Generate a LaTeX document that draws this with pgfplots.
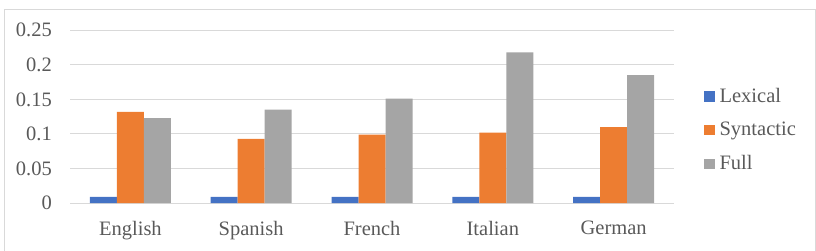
\documentclass[border=0pt]{standalone}
\usepackage{fontspec}
\setmainfont{Liberation Serif}
\usepackage{pgfplots}
\pgfplotsset{compat=1.18}
\definecolor{lexblue}{HTML}{4472C4}
\definecolor{synorange}{HTML}{ED7D31}
\definecolor{fullgray}{HTML}{A5A5A5}
\definecolor{gridc}{HTML}{D9D9D9}
\definecolor{txt}{HTML}{595959}
\begin{document}
\begin{tikzpicture}[x=1bp,y=1bp]
\fontsize{20bp}{24bp}\selectfont
\draw[gridc, line width=1bp] (4,-5) rectangle (815,240);
\begin{axis}[
  at={(70bp,47bp)}, anchor=south west,
  scale only axis, width=604bp, height=172.7bp,
  xmin=-0.5, xmax=4.5, ymin=0, ymax=0.25,
  ybar=0pt, bar width=27bp,
  axis line style={draw=none},
  major tick length=0pt,
  ymajorgrids, grid style={gridc, line width=1bp},
  ytick={0,0.05,0.1,0.15,0.2,0.25},
  yticklabels={0,0.05,0.1,0.15,0.2,0.25},
  xtick={0,1,2,3,4},
  xticklabels={English,Spanish,French,Italian,German},
  yticklabel style={anchor=east, inner sep=0pt, xshift=-18bp, text=txt, font=\fontsize{20.5bp}{24bp}\selectfont},
  xticklabel style={anchor=north, inner sep=0pt, yshift=-18bp, text=txt, font=\fontsize{20.5bp}{24bp}\selectfont},
  legend style={at={(1.045,0.42)}, anchor=west, draw=none, fill=none,
    font=\fontsize{20.5bp}{24bp}\selectfont, text=txt, row sep=14bp,
    nodes={inner sep=1.5bp},
    /tikz/every odd column/.append style={column sep=3bp}},
  legend cell align=left,
  legend image code/.code={\fill[#1] (0bp,-5bp) rectangle (10.7bp,5.5bp);},
  clip=false,
]
\addplot[fill=lexblue, draw=none] coordinates {(0,0.009) (1,0.009) (2,0.009) (3,0.009) (4,0.009)};
\addplot[fill=synorange, draw=none] coordinates {(0,0.132) (1,0.093) (2,0.099) (3,0.102) (4,0.110)};
\addplot[fill=fullgray, draw=none] coordinates {(0,0.123) (1,0.135) (2,0.151) (3,0.218) (4,0.185)};
\legend{Lexical,Syntactic,Full}
\end{axis}
\pgfresetboundingbox
\useasboundingbox (0,0) rectangle (816,250);
\end{tikzpicture}
\end{document}
